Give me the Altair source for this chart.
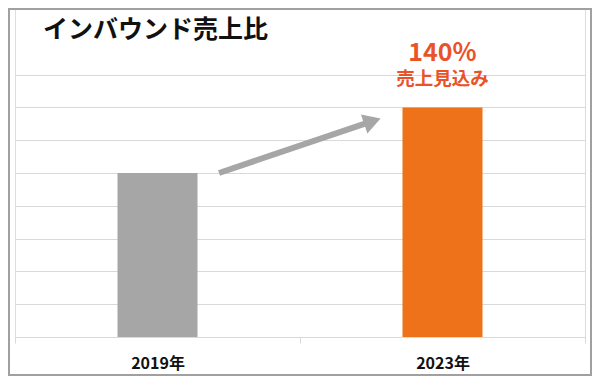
import altair as alt
import pandas as pd

categories = ["2019年", "2023年"]
values = [100, 140]
bar_colors = ["#A6A6A6", "#EE7219"]
grid_values = [0, 20, 40, 60, 80, 100, 120, 140, 160]
title_text = ["インバウンド売上比"]
annot_main = ["140%"]
annot_sub = ["売上見込み"]
annot_year = ["2023年"]
annot_value = [140]
arrow_from = ["2019年"]
arrow_to = ["2023年"]
arrow_y0 = [100]
arrow_y1 = [131.6]

FONT = "Noto Sans CJK JP"

df = pd.DataFrame({"year": categories, "value": values, "color": bar_colors})
ann = pd.DataFrame({"year": annot_year, "value": annot_value, "main": annot_main, "sub": annot_sub})
arr = pd.DataFrame({"from": arrow_from, "to": arrow_to, "y0": arrow_y0, "y1": arrow_y1})
ttl = pd.DataFrame({"t": title_text})

xscale = alt.Scale(domain=categories, paddingInner=0, paddingOuter=0)
yscale = alt.Scale(domain=[0, 200], nice=False)

bars = alt.Chart(df).mark_bar(size=80).encode(
    x=alt.X("year:N", scale=xscale, title=None,
            axis=alt.Axis(labelAngle=0, tickBand="extent", domainColor="#D9D9D9",
                          tickColor="#D9D9D9", tickSize=6, labelPadding=12,
                          labelFontSize=16, labelColor="#111111", labelFontWeight="bold",
                          labelFont=FONT, grid=False, domainWidth=1)),
    y=alt.Y("value:Q", scale=yscale, title=None,
            axis=alt.Axis(labels=False, ticks=False, domain=False, values=grid_values,
                          gridColor="#D9D9D9", gridWidth=1)),
    color=alt.Color("color:N", scale=None),
)

rule = alt.Chart(arr).mark_rule(strokeWidth=6, color="#A6A6A6").encode(
    x=alt.X("from:N", bandPosition=0.716, title=None),
    x2=alt.X2("to:N", bandPosition=0.254),
    y=alt.Y("y0:Q", title=None),
    y2=alt.Y2("y1:Q"),
)

head = alt.Chart(arr).mark_point(shape="triangle-right", size=400, filled=True,
                                 color="#A6A6A6", opacity=1, angle=341.3).encode(
    x=alt.X("to:N", bandPosition=0.254, title=None),
    y=alt.Y("y1:Q", title=None),
)

t_main = alt.Chart(ann).mark_text(dy=-54, fontSize=25, fontWeight="bold", color="#E9532A",
                                  font=FONT, baseline="middle").encode(
    x=alt.X("year:N", title=None), y=alt.Y("value:Q", title=None), text="main:N")

t_sub = alt.Chart(ann).mark_text(dy=-28, fontSize=18.5, fontWeight="bold", color="#E9532A",
                                 font=FONT, baseline="middle").encode(
    x=alt.X("year:N", title=None), y=alt.Y("value:Q", title=None), text="sub:N")

title = alt.Chart(ttl).mark_text(fontSize=25, fontWeight="bold", color="#111111", font=FONT,
                                 align="left", baseline="middle").encode(
    x=alt.value(28), y=alt.value(21), text="t:N")

border = alt.Chart(ttl).mark_rect(fill=None, stroke="#A0A0A0", strokeWidth=2).encode(
    x=alt.value(-6), x2=alt.value(576), y=alt.value(0), y2=alt.value(366))

chart = alt.layer(bars, rule, head, t_main, t_sub, title, border).properties(
    width=570, height=328,
    padding=0,
).configure_view(stroke=None).configure(background="white")

chart.save("out.html", embed_options={"renderer": "svg", "actions": False})
